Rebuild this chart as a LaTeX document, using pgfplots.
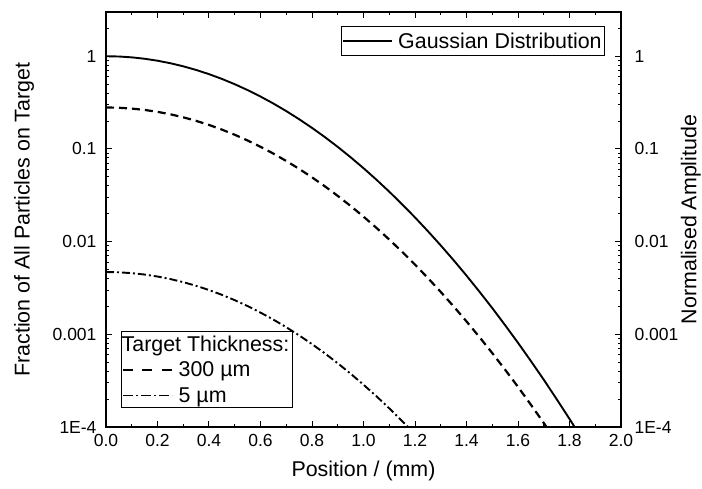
\documentclass[border=0pt]{standalone}
\usepackage{fontspec}
\setmainfont{Liberation Sans}
\usepackage{pgfplots}
\usepackage{pgfplotstable}
\pgfplotsset{compat=1.18}

% Normalised Gaussian beam profile
\pgfplotstableread{
x y
0.00 1.0
0.05 0.99307
0.10 0.97258
0.15 0.93935
0.20 0.89474
0.25 0.84048
0.30 0.77861
0.35 0.71135
0.40 0.64089
0.45 0.56945
0.50 0.49900
0.55 0.43124
0.60 0.36750
0.65 0.30889
0.70 0.25603
0.75 0.20927
0.80 0.16870
0.85 0.13412
0.90 0.10515
0.95 0.08131
1.00 0.06200
1.05 0.04662
1.10 0.03457
1.15 0.02528
1.20 0.01824
1.25 0.01297
1.30 0.00910
1.35 0.00630
1.40 0.00430
1.45 0.00289
1.50 0.00192
1.55 0.001254
1.60 0.000810
1.65 0.000515
1.70 0.000324
1.75 0.000200
1.80 0.0001223
1.85 0.0000736
}\gaussdata

% Fraction on a 300 um target
\pgfplotstableread{
x y
0.00 0.28
0.05 0.27811
0.10 0.27251
0.15 0.26343
0.20 0.25122
0.25 0.23635
0.30 0.21937
0.35 0.20087
0.40 0.18145
0.45 0.16170
0.50 0.14216
0.55 0.12330
0.60 0.10550
0.65 0.08906
0.70 0.07416
0.75 0.06093
0.80 0.04938
0.85 0.03948
0.90 0.03114
0.95 0.02423
1.00 0.01860
1.05 0.01409
1.10 0.01053
1.15 0.007762
1.20 0.005645
1.25 0.004049
1.30 0.002866
1.35 0.002001
1.40 0.001378
1.45 0.000936
1.50 0.000628
1.55 0.000415
1.60 0.000271
1.65 0.000174
1.70 0.0001106
1.75 0.0000693
}\targetA

% Fraction on a 5 um target
\pgfplotstableread{
x y
0.00 0.0047
0.05 0.004667
0.10 0.004570
0.15 0.004413
0.20 0.004202
0.25 0.003946
0.30 0.003654
0.35 0.003336
0.40 0.003004
0.45 0.002667
0.50 0.002335
0.55 0.002016
0.60 0.001716
0.65 0.001441
0.70 0.001193
0.75 0.000974
0.80 0.000784
0.85 0.000623
0.90 0.000487
0.95 0.000376
1.00 0.000286
1.05 0.000215
1.10 0.000159
1.15 0.000116
1.20 0.0000836
}\targetB

\tikzset{
  dashstyle/.style={black, line width=2.2pt, dash pattern=on 8pt off 5pt},
  dotstyle/.style={black, line width=1.9pt, dash pattern=on 8pt off 3pt on 2pt off 3pt},
  dashkey/.style={black, line width=1.3pt, dash pattern=on 10pt off 9.5pt},
  dotkey/.style={black, line width=1.3pt, dash pattern=on 10pt off 3pt on 2pt off 3pt},
}
\newcommand\tickfont{\fontsize{17.5}{20}\selectfont}
\newcommand\labfont{\fontsize{21.4}{25}\selectfont}

\begin{document}
\begin{tikzpicture}
\begin{axis}[
    width=515pt, height=415pt, scale only axis,
    xmin=0, xmax=2, ymin=1e-4, ymax=3, ymode=log,
    xtick={0,0.2,0.4,0.6,0.8,1.0,1.2,1.4,1.6,1.8,2.0},
    xticklabels={0.0,0.2,0.4,0.6,0.8,1.0,1.2,1.4,1.6,1.8,2.0},
    minor x tick num=1,
    ytick={1e-4,0.001,0.01,0.1,1},
    yticklabels={1E-4,0.001,0.01,0.1,1},
    minor ytick={2e-4,3e-4,4e-4,5e-4,6e-4,7e-4,8e-4,9e-4,
                 2e-3,3e-3,4e-3,5e-3,6e-3,7e-3,8e-3,9e-3,
                 0.02,0.03,0.04,0.05,0.06,0.07,0.08,0.09,
                 0.2,0.3,0.4,0.5,0.6,0.7,0.8,0.9,2},
    tick align=inside,
    major tick length=6pt, minor tick length=3.5pt,
    tick style={black, line width=1pt},
    axis line style={line width=1.2pt},
    tick label style={font=\tickfont},
    yticklabel style={xshift=-6pt},
    xticklabel style={yshift=-4pt},
    label style={font=\labfont, inner sep=0pt},
    xlabel style={yshift=-11pt},
    ylabel shift=15pt,
    xtick pos=both, ytick pos=both, yticklabel pos=left,
    xlabel={Position / (mm)},
    ylabel={Fraction of All Particles on Target},
    legend style={draw=black, line width=0.8pt, font=\labfont,
      inner xsep=1pt, inner ysep=4pt,
      at={(0.969,0.966)}, anchor=north east},
    legend image code/.code={\draw[#1] (0pt,0pt) -- (49pt,0pt); \path (53pt,0pt);},
    legend image post style={line width=1.3pt},
  ]
  \addplot[black, line width=1.9pt] table[x=x,y=y] {\gaussdata};
  \addlegendentry{Gaussian Distribution}
  \addplot[dashstyle, forget plot] table[x=x,y=y] {\targetA};
  \addplot[dotstyle, forget plot] table[x=x,y=y] {\targetB};
\end{axis}
\begin{axis}[
    width=515pt, height=415pt, scale only axis,
    xmin=0, xmax=2, ymin=1e-4, ymax=3, ymode=log,
    ytick={1e-4,0.001,0.01,0.1,1},
    yticklabels={1E-4,0.001,0.01,0.1,1},
    axis x line=none, axis y line*=right,
    y axis line style={draw=none},
    major tick length=0pt, minor tick length=0pt,
    tick label style={font=\tickfont},
    yticklabel style={xshift=10pt},
    label style={font=\labfont, inner sep=0pt},
    ylabel shift=-1pt,
    ylabel={Normalised Amplitude},
    legend style={draw=black, line width=0.8pt, font=\labfont,
      inner xsep=1pt, inner ysep=2pt, row sep=5pt,
      at={(0.029,0.046)}, anchor=south west},
    legend cell align=left,
    legend image code/.code={\draw[#1] (0pt,0pt) -- (49pt,0pt); \path (53pt,0pt);},
  ]
  \addlegendimage{empty legend}
  \addlegendentry{\hspace*{-57pt}Target Thickness:}
  \addlegendimage{dashkey}
  \addlegendentry{300 µm}
  \addlegendimage{dotkey}
  \addlegendentry{5 µm}
\end{axis}
% page margins around the frame
\path ([xshift=-106pt,yshift=-61pt]current axis.south west)
      ([xshift=81pt,yshift=12pt]current axis.north east);
\end{tikzpicture}
\end{document}
